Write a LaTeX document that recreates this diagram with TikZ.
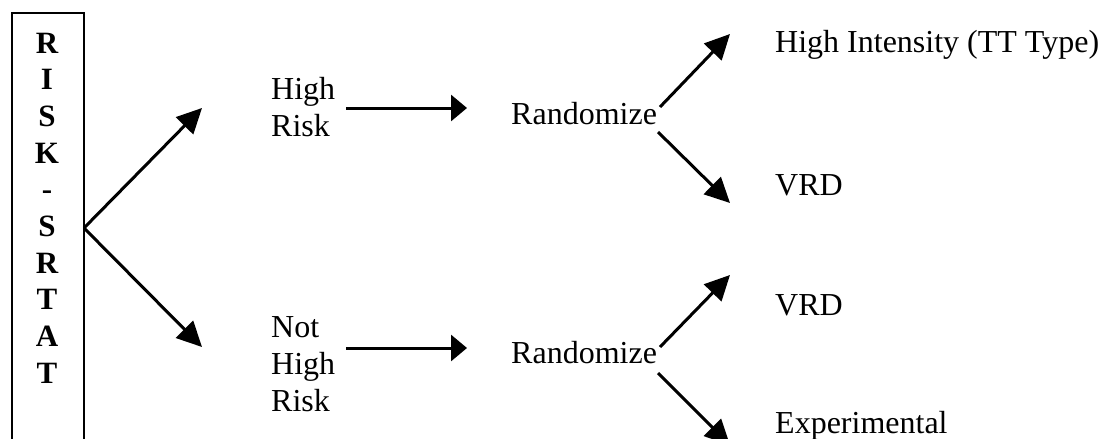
\documentclass[tikz,border=0pt]{standalone}
\usepackage{fontspec}
\setmainfont{Liberation Serif}
\usetikzlibrary{arrows.meta}
\begin{document}
\begin{tikzpicture}[x=1pt,y=-1pt,
  lbl/.style={anchor=base west, inner sep=0pt, font=\fontsize{32}{36.8}\selectfont, align=left},
  letter/.style={anchor=base, inner sep=0pt, font=\fontsize{31}{36}\selectfont\bfseries},
  harr/.style={line width=3pt, -{Triangle[length=16pt,width=26pt]}},
  darr/.style={line width=3pt, -{Triangle[length=25pt,width=24pt]}},
  frame/.style={draw, line width=2pt, inner sep=0pt, anchor=north west, minimum width=72pt, minimum height=460pt}
]
\useasboundingbox (0,0) rectangle (1101,439);
% left box with vertical letters
\node[frame] (box) at (11,12) {};
\foreach \c [count=\i] in {R,I,S,K,-,S,R,T,A,T}
  \node[letter] (l\i) at (47,{53+36.7*(\i-1)}) {\c};
% text labels (base anchor = baseline of last line)
\node[lbl] (hr) at (271,136.5) {High\\Risk};
\node[lbl] (nhr) at (271,411) {Not\\High\\Risk};
\node[lbl] (r1) at (511,124) {Randomize};
\node[lbl] (r2) at (511,363) {Randomize};
\node[lbl] (hi) at (775,52) {High Intensity (TT Type)};
\node[lbl] (vrd1) at (775,195) {VRD};
\node[lbl] (vrd2) at (775,315) {VRD};
\node[lbl] (exp) at (775,433) {Experimental};
% connector end points
\coordinate (split) at (84,228);
\coordinate (tipHR) at (202,108);
\coordinate (tipNHR) at (202,347);
\coordinate (hrS) at (346,108);
\coordinate (hrT) at (467,108);
\coordinate (nhrS) at (346,348);
\coordinate (nhrT) at (467,348);
\coordinate (r1a) at (660,107);
\coordinate (r1b) at (658,132);
\coordinate (r2a) at (660,347);
\coordinate (r2b) at (658,373);
\coordinate (hiT) at (730,34);
\coordinate (vrd1T) at (730,203);
\coordinate (vrd2T) at (730,275);
\coordinate (expT) at (730,445);
% connectors
\draw[darr] (split) -- (tipHR);
\draw[darr] (split) -- (tipNHR);
\draw[harr] (hrS) -- (hrT);
\draw[harr] (nhrS) -- (nhrT);
\draw[darr] (r1a) -- (hiT);
\draw[darr] (r1b) -- (vrd1T);
\draw[darr] (r2a) -- (vrd2T);
\draw[darr] (r2b) -- (expT);
\end{tikzpicture}
\end{document}
